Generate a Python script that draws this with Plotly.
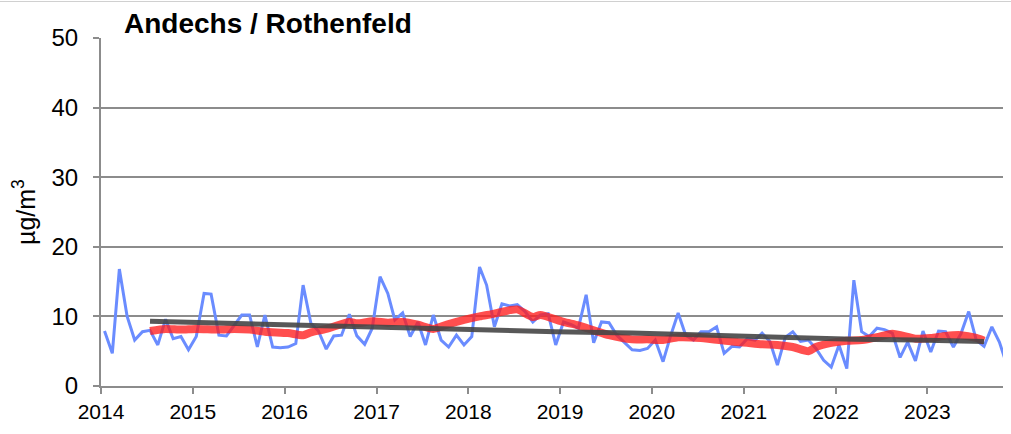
import plotly.graph_objects as go

# Monthly values (Jan 2014 .. Nov 2023), µg/m³
month_dates = [f"{2014 + i // 12}-{i % 12 + 1:02d}-15" for i in range(119)]
monthly = [
    7.9, 4.7, 16.8, 10.0, 6.6, 7.8, 8.0, 5.9, 9.6, 6.8, 7.1, 5.2,
    7.1, 13.3, 13.2, 7.3, 7.2, 8.8, 10.2, 10.2, 5.6, 10.2, 5.6, 5.5,
    5.6, 6.1, 14.5, 9.0, 7.9, 5.3, 7.2, 7.3, 10.3, 7.2, 6.0, 8.3,
    15.7, 13.3, 9.5, 10.5, 7.1, 9.2, 5.9, 10.2, 6.6, 5.6, 7.3, 5.9,
    7.1, 17.1, 14.5, 8.5, 11.8, 11.5, 11.7, 10.7, 9.2, 10.2, 10.4, 5.9,
    9.2, 8.8, 8.3, 13.1, 6.2, 9.2, 9.1, 7.3, 6.3, 5.2, 5.1, 5.4,
    6.6, 3.5, 7.1, 10.5, 7.3, 6.6, 7.8, 7.8, 8.5, 4.7, 5.7, 5.6,
    6.8, 6.6, 7.6, 6.4, 3.0, 7.0, 7.8, 6.4, 6.6, 5.4, 3.7, 2.7,
    5.9, 2.5, 15.2, 7.8, 7.1, 8.3, 8.1, 7.6, 4.1, 6.3, 3.6, 7.9,
    4.9, 7.9, 7.8, 5.6, 7.5, 10.7, 6.6, 5.7, 8.5, 6.3, 2.9,
]

# 12-month running mean
mean_dates = [
    "2014-07-15", "2014-09-15", "2014-11-15", "2015-01-15", "2015-04-15",
    "2015-06-15", "2015-08-15", "2015-10-15", "2016-01-15", "2016-03-15",
    "2016-04-15", "2016-06-15", "2016-09-15", "2016-10-15", "2016-12-15",
    "2017-02-15", "2017-04-15", "2017-06-15", "2017-08-15", "2017-10-15",
    "2017-12-15", "2018-02-15", "2018-04-15", "2018-06-15", "2018-07-15",
    "2018-09-15", "2018-10-15", "2019-01-15", "2019-03-15", "2019-05-15",
    "2019-07-15", "2019-10-15", "2019-12-15", "2020-02-15", "2020-04-15",
    "2020-07-15", "2020-11-15", "2021-01-15", "2021-03-15", "2021-05-15",
    "2021-07-15", "2021-09-15", "2021-10-15", "2021-12-15", "2022-02-15",
    "2022-04-15", "2022-06-15", "2022-08-15", "2022-11-15", "2023-01-15",
    "2023-03-15", "2023-05-15", "2023-07-15", "2023-08-15",
]
mean_vals = [
    7.9, 8.2, 8.1, 8.2, 8.1,
    8.2, 8.1, 7.8, 7.6, 7.3,
    7.7, 8.2, 9.2, 9.0, 9.3,
    9.1, 9.2, 8.8, 8.2, 8.9,
    9.5, 10.0, 10.4, 10.9, 11.0,
    9.9, 10.2, 9.2, 8.7, 8.0,
    7.3, 6.7, 6.7, 6.6, 7.0,
    6.9, 6.4, 6.2, 6.0, 5.9,
    5.6, 5.0, 5.6, 6.2, 6.5,
    6.6, 7.0, 7.5, 6.8, 6.9,
    7.2, 7.3, 6.9, 6.5,
]

# Trend line
trend_dates = [
    "2014-07-15", "2015-08-15", "2016-06-15", "2017-04-15", "2018-02-15",
    "2018-12-15", "2019-10-15", "2020-07-15", "2021-07-15", "2022-03-15",
    "2022-11-15", "2023-08-15",
]
trend_vals = [9.3, 8.9, 8.6, 8.4, 8.1, 7.8, 7.6, 7.3, 6.9, 6.7, 6.6, 6.4]

y_ticks = [0, 10, 20, 30, 40, 50]

fig = go.Figure()
fig.add_trace(go.Scatter(
    x=month_dates, y=monthly, mode="lines",
    line=dict(color="#6a8cff", width=3), showlegend=False))
fig.add_trace(go.Scatter(
    x=mean_dates, y=mean_vals, mode="lines",
    line=dict(color="rgba(255,30,30,0.78)", width=8, shape="spline", smoothing=0.6),
    showlegend=False))
fig.add_trace(go.Scatter(
    x=trend_dates, y=trend_vals, mode="lines",
    line=dict(color="rgba(70,70,70,0.9)", width=5), showlegend=False))

axis_gray = "#8c8c8c"
fig.update_layout(
    width=1011, height=434,
    margin=dict(l=93, r=0, t=30, b=56),
    paper_bgcolor="white", plot_bgcolor="white",
    font=dict(family="Liberation Sans, Arial, sans-serif", color="#000000"),
    title=dict(text="<b>Andechs / Rothenfeld</b>", x=116 / 1011, xanchor="left",
               y=1 - 15 / 434, yanchor="middle",
               font=dict(size=28, family="Liberation Sans, Arial, sans-serif")),
    xaxis=dict(
        type="date", range=["2014-01-01", "2024-01-01"],
        tick0="2014-01-01", dtick="M12", tickformat="%Y",
        showgrid=False, showline=True, linecolor=axis_gray, linewidth=2,
        ticks="outside", ticklen=6, tickwidth=2, tickcolor=axis_gray,
        tickfont=dict(size=21), zeroline=False,
    ),
    yaxis=dict(
        range=[0, 50], tickvals=y_ticks,
        showgrid=True, gridcolor=axis_gray, gridwidth=2,
        showline=True, linecolor=axis_gray, linewidth=2,
        ticks="outside", ticklen=6, tickwidth=2, tickcolor=axis_gray,
        ticklabelstandoff=10,
        tickfont=dict(size=24), zeroline=False,
    ),
    annotations=[dict(
        text="µg/m<sup>3</sup>", xref="paper", yref="paper",
        x=-77 / 918, y=0.5, xanchor="center", yanchor="middle",
        textangle=-90, showarrow=False, font=dict(size=25))],
)

top_line_js = (
    "var d=document.createElement('div');"
    "d.style.cssText='position:absolute;left:0;top:1px;width:100%;height:1px;"
    "background:#d0d0d0;pointer-events:none;';"
    "document.body.appendChild(d);"
)
fig.write_html("out.html", post_script=top_line_js)
